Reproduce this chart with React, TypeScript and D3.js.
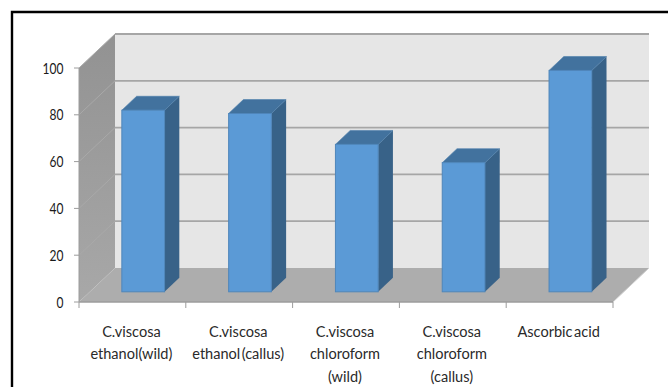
import React from "react";
import * as d3 from "d3";

const categories = ["wild-ethanol", "callus-ethanol", "wild-chloroform", "callus-chloroform", "ascorbic"];
const categoryLines = [
  ["C.viscosa", "ethanol(wild)"],
  ["C.viscosa", "ethanol (callus)"],
  ["C.viscosa", "chloroform", "(wild)"],
  ["C.viscosa", "chloroform", "(callus)"],
  ["Ascorbic acid"],
];
const values = [77.6, 76.2, 63.0, 55.2, 94.6];
const yTicks = [0, 20, 40, 60, 80, 100];

const WIDTH = 668;
const HEIGHT = 387;
// Oblique offset from the front of the 3D box to its back wall.
const depth: [number, number] = [36, -34];
// Bars sit part way into the box and take up part of its depth.
const barInset = 0.3;
const barDepth = 0.41;

const x = d3.scaleBand<string>().domain(categories).range([79, 613]).paddingInner(0.6).paddingOuter(0.3);
const y = d3.scaleLinear().domain([0, 100]).range([302, 68]);

const poly = (pts: [number, number][]) => {
  const line = d3.line();
  return line(pts) + "Z";
};

const TICK_FONT = "Lato, 'Open Sans', sans-serif";

export default function App() {
  const x0 = x.range()[0];
  const x1 = x.range()[1];
  const y0 = y(0);
  const yTop = y(100);
  const [dx, dy] = depth;
  const step = x.step();
  const ox = dx * barInset;

  return (
    <svg
      width={WIDTH}
      height={HEIGHT}
      style={{ position: "absolute", left: 0, top: 0, background: "#fff" }}
    >
      <defs>
        <linearGradient id="wallShade" x1="0" y1="0" x2="0" y2="1">
          <stop offset="0" stopColor="#929292" />
          <stop offset="1" stopColor="#a8a8a8" />
        </linearGradient>
      </defs>

      {/* outer frame, running off the right and bottom edges */}
      <path d={`M${WIDTH},12 H12 V${HEIGHT}`} fill="none" stroke="#000" strokeWidth={2.4} />

      {/* back wall, side wall, floor */}
      <rect x={x0 + dx} y={yTop + dy} width={x1 - x0} height={y0 - yTop} fill="#e6e6e6" />
      <path
        d={poly([[x0, yTop], [x0 + dx, yTop + dy], [x0 + dx, y0 + dy], [x0, y0]])}
        fill="url(#wallShade)"
      />
      <path
        d={poly([[x0, y0], [x0 + dx, y0 + dy], [x1 + dx, y0 + dy], [x1, y0]])}
        fill="#adadad"
      />

      {/* gridlines across side and back walls */}
      {yTicks.map((t) => (
        <g key={t} fill="none">
          {t > 0 && (
            <line x1={x0} y1={y(t)} x2={x0 + dx} y2={y(t) + dy} stroke="#a9a9a9" strokeWidth={1} />
          )}
          {t > 0 && (
            <line x1={x0 + dx} y1={y(t) + dy} x2={x1 + dx} y2={y(t) + dy} stroke="#a6a6a6" strokeWidth={1.8} />
          )}
        </g>
      ))}

      {/* axes */}
      <line x1={x0} y1={yTop} x2={x0} y2={y0} stroke="#9c9c9c" strokeWidth={1} />
      <line x1={x0} y1={y0} x2={x1} y2={y0} stroke="#9c9c9c" strokeWidth={1.5} />
      <line x1={x1} y1={y0} x2={x1 + dx} y2={y0 + dy} stroke="#d0d0d0" strokeWidth={1} />
      {yTicks.map((t) => (
        <line key={t} x1={x0 - 5} y1={y(t)} x2={x0} y2={y(t)} stroke="#9c9c9c" strokeWidth={1} />
      ))}
      {d3.range(categories.length + 1).map((i) => (
        <line
          key={i}
          x1={x0 + i * step}
          y1={y0}
          x2={x0 + i * step}
          y2={y0 + 6}
          stroke="#9c9c9c"
          strokeWidth={1}
        />
      ))}

      {/* bars */}
      {categories.map((c, i) => {
        const bw = x.bandwidth();
        const left = (x(c) as number) + ox;
        const right = left + bw;
        const base = y0 + dy * barInset;
        const top = base - (y0 - y(values[i]));
        const bx = dx * barDepth;
        const by = dy * barDepth;
        return (
          <g key={c}>
            <path d={poly([[right, top], [right + bx, top + by], [right + bx, base + by], [right, base]])} fill="#386288" />
            <path d={poly([[left, top], [left + bx, top + by], [right + bx, top + by], [right, top]])} fill="#42729e" stroke="#4b7dab" strokeWidth={0.6} />
            <rect x={left} y={top} width={bw} height={base - top} fill="#5b9ad6" stroke="#4f86ba" strokeWidth={1} />
          </g>
        );
      })}

      {/* tick labels */}
      {yTicks.map((t) => (
        <text
          key={t}
          transform={`translate(63.5,${y(t) + 5.5}) scale(0.8,1)`}
          textAnchor="end"
          fontFamily={TICK_FONT}
          fontSize={15}
          fill="#1a1a1a"
        >
          {t}
        </text>
      ))}
      {categoryLines.map((lines, i) => (
        <g key={i}>
          {lines.map((s, j) => (
            <text
              key={j}
              transform={`translate(${x0 + (i + 0.5) * step - 1},${337 + j * 22.4}) scale(0.91,1)`}
              textAnchor="middle"
              fontFamily={TICK_FONT}
              fontSize={16}
              wordSpacing={-2.5}
              fill="#2a2a2a"
            >
              {s}
            </text>
          ))}
        </g>
      ))}
    </svg>
  );
}
